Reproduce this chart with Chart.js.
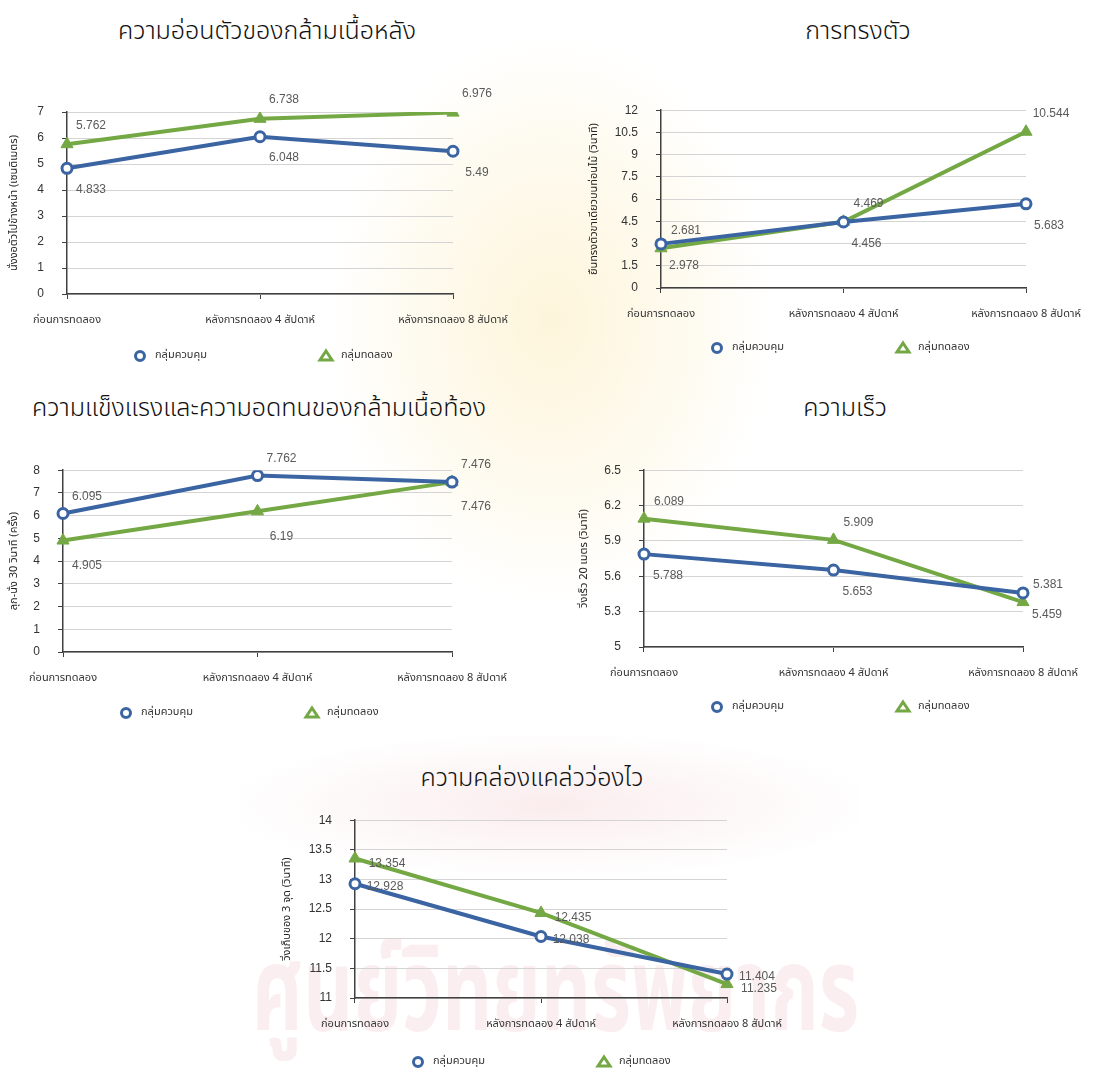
<!DOCTYPE html>
<html>
<head>
<meta charset="utf-8">
<script src="https://cdn.jsdelivr.net/npm/chart.js@4.4.1/dist/chart.umd.min.js"></script>
<style>
  html, body { margin: 0; padding: 0; background: #fff; }
  body { width: 1101px; height: 1077px; position: relative; overflow: hidden;
         font-family: "Noto Sans Thai", "Noto Sans", "DejaVu Sans", sans-serif; }
  .title { position: absolute; transform: translate(-50%, -50%); font-size: 25px;
           white-space: nowrap; color: #111; font-weight: 300; }
  .box { position: absolute; }
  .mark-bg { position: absolute; pointer-events: none; }
</style>
</head>
<body>
<div class="mark-bg" style="left:330px;top:40px;width:440px;height:560px;background:radial-gradient(ellipse at center, rgba(250,226,150,0.35) 0%, rgba(250,230,170,0.18) 45%, rgba(255,255,255,0) 72%);"></div>
<div class="mark-bg" style="left:240px;top:735px;width:620px;height:140px;background:radial-gradient(ellipse at center, rgba(235,170,175,0.22) 0%, rgba(240,200,200,0.1) 50%, rgba(255,255,255,0) 75%);"></div>
<div class="mark-bg" style="left:252px;top:905px;font-size:118px;color:rgba(214,120,140,0.13);white-space:nowrap;font-weight:700;transform:scaleX(0.66);transform-origin:left top;">ศูนย์วิทยทรัพยากร</div>

<div class="title" style="left:267px;top:31px;">ความอ่อนตัวของกล้ามเนื้อหลัง</div>
<div class="title" style="left:858px;top:31px;">การทรงตัว</div>
<div class="title" style="left:259px;top:408px;">ความแข็งแรงและความอดทนของกล้ามเนื้อท้อง</div>
<div class="title" style="left:845px;top:408px;">ความเร็ว</div>
<div class="title" style="left:532px;top:778px;">ความคล่องแคล่วว่องไว</div>

<div class="box" style="left:0px;top:85px;"><canvas id="c1" width="560" height="300"></canvas></div>
<div class="box" style="left:560px;top:85px;"><canvas id="c2" width="541" height="290"></canvas></div>
<div class="box" style="left:0px;top:445px;"><canvas id="c3" width="560" height="295"></canvas></div>
<div class="box" style="left:560px;top:445px;"><canvas id="c4" width="541" height="290"></canvas></div>
<div class="box" style="left:250px;top:795px;"><canvas id="c5" width="600" height="282"></canvas></div>

<script>
// Test periods (x categories) and group names
const categories = ['ก่อนการทดลอง', 'หลังการทดลอง 4 สัปดาห์', 'หลังการทดลอง 8 สัปดาห์'];
const groupNames = ['กลุ่มควบคุม', 'กลุ่มทดลอง'];

// Back flexibility: sit and reach (cm)
const flexControl = [4.833, 6.048, 5.49];
const flexExperiment = [5.762, 6.738, 6.976];
// Balance: one-leg stand on a beam (s)
const balanceControl = [2.978, 4.456, 5.683];
const balanceExperiment = [2.681, 4.469, 10.544];
// Abdominal strength/endurance: sit-ups in 30 s (reps)
const situpControl = [6.095, 7.762, 7.476];
const situpExperiment = [4.905, 6.19, 7.476];
// Speed: 20 m sprint (s)
const sprintControl = [5.788, 5.653, 5.459];
const sprintExperiment = [6.089, 5.909, 5.381];
// Agility: 3-point shuttle pick-up (s)
const agilityControl = [12.928, 12.038, 11.404];
const agilityExperiment = [13.354, 12.435, 11.235];

// Y axis ranges
const flexAxis = { min: 0, max: 7, step: 1 };
const balanceAxis = { min: 0, max: 12, step: 1.5 };
const situpAxis = { min: 0, max: 8, step: 1 };
const sprintAxis = { min: 5, max: 6.5, step: 0.3 };
const agilityAxis = { min: 11, max: 14, step: 0.5 };

const BLUE = '#3b64a2';
const GREEN = '#74a844';
const THAI = '"Noto Sans Thai", "Noto Sans", "DejaVu Sans", sans-serif';
const NUM = '"Liberation Sans", Arial, sans-serif';

function build(id, spec) {
  const c = spec.cont, a = spec.area;
  const yFont = 11, yLH = yFont * 1.2;
  const yW = a.l - spec.yTitleX + yLH / 2;
  const xH = 40;
  const padding = {
    left: a.l - yW - c.left,
    top: a.t - c.top,
    right: c.left + c.w - a.r,
    bottom: c.top + c.h - a.b - xH
  };

  const valueLabels = {
    id: 'valueLabels',
    afterDatasetsDraw(chart) {
      const ctx = chart.ctx;
      ctx.save();
      ctx.font = '12px ' + NUM;
      ctx.fillStyle = '#5a5a5a';
      ctx.textAlign = 'center';
      ctx.textBaseline = 'middle';
      chart.data.datasets.forEach((ds, di) => {
        const off = spec.labelOffsets[di];
        chart.getDatasetMeta(di).data.forEach((pt, i) => {
          ctx.fillText(String(ds.data[i]), pt.x + off.dx, pt.y + off.dy);
        });
      });
      ctx.restore();
    }
  };

  const legendRow = {
    id: 'legendRow',
    afterDraw(chart) {
      const ctx = chart.ctx;
      ctx.save();
      const y = spec.legendY - c.top;
      chart.data.datasets.forEach((ds, di) => {
        const x = spec.legendX - c.left + di * 186;
        ctx.lineWidth = 3;
        ctx.strokeStyle = ds.borderColor;
        ctx.fillStyle = '#fff';
        if (di === 0) {
          ctx.beginPath();
          ctx.arc(x, y, 4.5, 0, Math.PI * 2);
          ctx.fill(); ctx.stroke();
        } else {
          ctx.lineJoin = 'miter';
          ctx.beginPath();
          ctx.moveTo(x, y - 5);
          ctx.lineTo(x + 6, y + 4);
          ctx.lineTo(x - 6, y + 4);
          ctx.closePath();
          ctx.fill(); ctx.stroke();
        }
        ctx.fillStyle = '#333';
        ctx.font = '11px ' + THAI;
        ctx.textAlign = 'left';
        ctx.textBaseline = 'middle';
        ctx.fillText(ds.label, x + 15, y);
      });
      ctx.restore();
    }
  };

  return new Chart(document.getElementById(id), {
    type: 'line',
    data: {
      labels: categories,
      datasets: [
        {
          label: groupNames[0], data: spec.control,
          borderColor: BLUE, backgroundColor: '#fff', borderWidth: 4,
          pointStyle: 'circle', pointRadius: 5, pointBorderWidth: 3,
          pointBackgroundColor: '#fff', pointBorderColor: BLUE, tension: 0
        },
        {
          label: groupNames[1], data: spec.experiment,
          borderColor: GREEN, backgroundColor: GREEN, borderWidth: 4,
          pointStyle: 'triangle', pointRadius: 7, pointBorderWidth: 1,
          pointBackgroundColor: GREEN, pointBorderColor: GREEN, tension: 0
        }
      ]
    },
    options: {
      responsive: false,
      animation: false,
      layout: { padding },
      plugins: { legend: { display: false }, tooltip: { enabled: false } },
      scales: {
        x: {
          offset: false,
          grid: { drawOnChartArea: false, color: '#404040', tickColor: '#404040', tickLength: 5 },
          border: { color: '#404040', width: 1.5 },
          ticks: { color: '#333', font: { family: THAI, size: 11 }, padding: 15, maxRotation: 0, autoSkip: false },
          afterFit(s) { s.height = xH; }
        },
        y: {
          min: spec.axis.min, max: spec.axis.max,
          grid: { color: '#d4d4d4', tickColor: '#404040', tickLength: 5, lineWidth: 1 },
          border: { color: '#404040', width: 1.5 },
          ticks: { stepSize: spec.axis.step, color: '#333', font: { family: NUM, size: 12 }, padding: 18,
                   callback: v => String(Math.round(v * 10) / 10) },
          title: { display: true, text: spec.yTitle, color: '#222', padding: { top: 0, bottom: 0 },
                   font: { family: THAI, size: yFont } },
          afterFit(s) { s.width = yW; }
        }
      }
    },
    plugins: [valueLabels, legendRow]
  });
}

build('c1', {
  cont: { left: 0, top: 85, w: 560, h: 300 }, area: { l: 67, t: 112, r: 453, b: 294 },
  yTitleX: 15, yTitle: 'นั่งงอตัวไปข้างหน้า (เซนติเมตร)', axis: flexAxis,
  control: flexControl, experiment: flexExperiment,
  labelOffsets: [{ dx: 24, dy: 21 }, { dx: 24, dy: -19 }],
  legendX: 140, legendY: 356
});
build('c2', {
  cont: { left: 560, top: 85, w: 541, h: 290 }, area: { l: 661, t: 106, r: 1026, b: 288 },
  yTitleX: 595, yTitle: 'ยืนทรงตัวขาเดียวบนท่อนไม้ (วินาที)', axis: balanceAxis,
  control: balanceControl, experiment: balanceExperiment,
  labelOffsets: [{ dx: 23, dy: 22 }, { dx: 25, dy: -18 }],
  legendX: 717, legendY: 348
});
build('c3', {
  cont: { left: 0, top: 445, w: 560, h: 295 }, area: { l: 63, t: 469, r: 452, b: 652 },
  yTitleX: 15, yTitle: 'ลุก-นั่ง 30 วินาที (ครั้ง)', axis: situpAxis,
  control: situpControl, experiment: situpExperiment,
  labelOffsets: [{ dx: 24, dy: -17 }, { dx: 24, dy: 25 }],
  legendX: 126, legendY: 713
});
build('c4', {
  cont: { left: 560, top: 445, w: 541, h: 290 }, area: { l: 644, t: 465, r: 1023, b: 647 },
  yTitleX: 585, yTitle: 'วิ่งเร็ว 20 เมตร (วินาที)', axis: sprintAxis,
  control: sprintControl, experiment: sprintExperiment,
  labelOffsets: [{ dx: 24, dy: 22 }, { dx: 25, dy: -17 }],
  legendX: 717, legendY: 707
});
build('c5', {
  cont: { left: 250, top: 795, w: 600, h: 282 }, area: { l: 355, t: 815, r: 727, b: 998 },
  yTitleX: 288, yTitle: 'วิ่งเก็บของ 3 จุด (วินาที)', axis: agilityAxis,
  control: agilityControl, experiment: agilityExperiment,
  labelOffsets: [{ dx: 30, dy: 3 }, { dx: 32, dy: 5 }],
  legendX: 418, legendY: 1062
});
</script>
</body>
</html>
